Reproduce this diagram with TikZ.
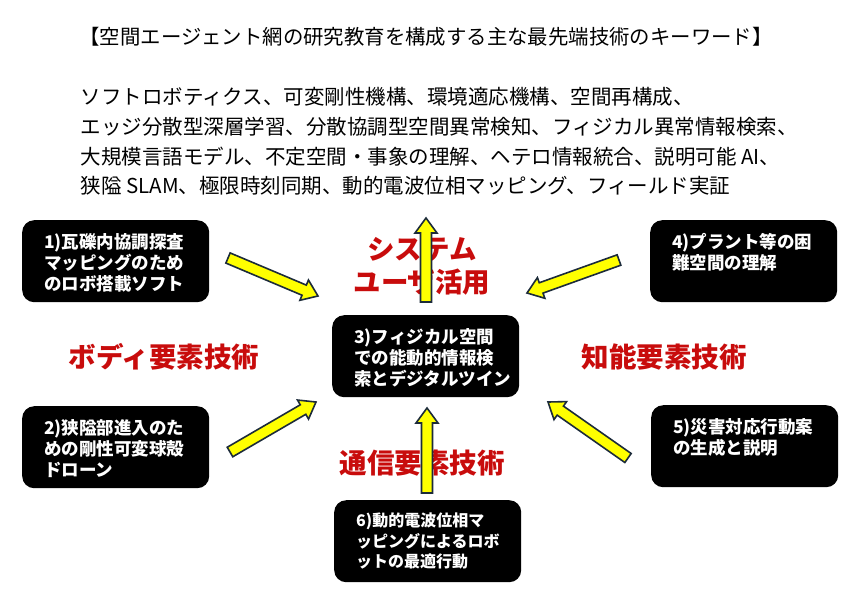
\documentclass[tikz,border=0pt]{standalone}
\usepackage{fontspec}
\newfontfamily\jpfont{Noto Sans CJK JP}
\usepackage{tikz}
\usetikzlibrary{calc}

\definecolor{keyred}{RGB}{200,12,12}
\definecolor{arrowyellow}{RGB}{255,255,0}
\definecolor{arrowline}{RGB}{28,43,58}

\tikzset{
  infobox/.style={fill=black, rounded corners=12pt, text=white, inner xsep=22pt, inner ysep=13pt, anchor=north west,
    font=\jpfont\bfseries\fontsize{17.5}{21}\selectfont},
  fieldlabel/.style={text=keyred, align=center, font=\jpfont\bfseries\fontsize{27.5}{33}\selectfont},
  arrowbody/.style={fill=arrowyellow, draw=arrowline, line width=1.6pt, line join=miter}
}
\newcommand\boxlines[1]{\parbox[c][56pt][t]{143pt}{\raggedright #1}}
\newcommand\blockarrow[2]{%
  \filldraw[arrowbody] let \p1=(#1), \p2=(#2),
    \n1={atan2(\y2-\y1,\x2-\x1)}, \n2={veclen(\x2-\x1,\y2-\y1)} in
    [shift={(\p1)}, rotate=\n1]
    (0pt,-5.5pt) -- ({\n2*1pt-15pt},-5.5pt) -- ({\n2*1pt-15pt},-11pt) -- ({\n2*1pt},0pt)
    -- ({\n2*1pt-15pt},11pt) -- ({\n2*1pt-15pt},5.5pt) -- (0pt,5.5pt) -- cycle;}

\begin{document}
\begin{tikzpicture}[x=1pt, y=-1pt]
  \useasboundingbox (0,0) rectangle (864,600);

  \node[anchor=west, font=\jpfont\fontsize{20.4}{24}\selectfont] (title) at (76,37)
    {【空間エージェント網の研究教育を構成する主な最先端技術のキーワード】};
  \node[anchor=west, align=left, font=\jpfont\fontsize{20.5}{29.6}\selectfont] (keywords) at (77,141.5)
    {ソフトロボティクス、可変剛性機構、環境適応機構、空間再構成、\\
     エッジ分散型深層学習、分散協調型空間異常検知、フィジカル異常情報検索、\\
     大規模言語モデル、不定空間・事象の理解、ヘテロ情報統合、説明可能 AI、\\
     狭隘 SLAM、極限時刻同期、動的電波位相マッピング、フィールド実証};

  \node[infobox] (robot) at (22,220) {\boxlines{1)瓦礫内協調探査\\マッピングのため\\のロボ搭載ソフト}};
  \node[infobox] (drone) at (22,406) {\boxlines{2)狭隘部進入のた\\めの剛性可変球殻\\ドローン}};
  \node[infobox] (twin) at (332,315) {\boxlines{3)フィジカル空間\\での能動的情報検\\索とデジタルツイン}};
  \node[infobox] (plant) at (650,220) {\boxlines{4)プラント等の困\\難空間の理解}};
  \node[infobox] (disaster) at (651,405) {\boxlines{5)災害対応行動案\\の生成と説明}};
  \node[infobox, font=\jpfont\bfseries\fontsize{16}{20.5}\selectfont] (radio) at (334,500)
    {\boxlines{6)動的電波位相マ\\ッピングによるロボ\\ットの最適行動}};

  \node[fieldlabel] (system) at (422,266.5) {システム\\ユーザ活用};
  \node[fieldlabel] (body) at (164,357) {ボディ要素技術};
  \node[fieldlabel] (intel) at (664,357) {知能要素技術};
  \node[fieldlabel] (comm) at (422,463) {通信要素技術};

  \coordinate (robot-out) at (228,258);   \coordinate (robot-in) at (318,296);
  \coordinate (plant-out) at (619,260);   \coordinate (plant-in) at (527,293);
  \coordinate (twin-out) at (426,302);    \coordinate (twin-up) at (426,218);
  \coordinate (radio-out) at (427,493);   \coordinate (radio-in) at (427,408);
  \coordinate (drone-out) at (230,452);   \coordinate (drone-in) at (316,402);
  \coordinate (disaster-out) at (628,458); \coordinate (disaster-in) at (548,402);

  \blockarrow{robot-out}{robot-in}
  \blockarrow{plant-out}{plant-in}
  \blockarrow{twin-out}{twin-up}
  \blockarrow{radio-out}{radio-in}
  \blockarrow{drone-out}{drone-in}
  \blockarrow{disaster-out}{disaster-in}
\end{tikzpicture}
\end{document}
